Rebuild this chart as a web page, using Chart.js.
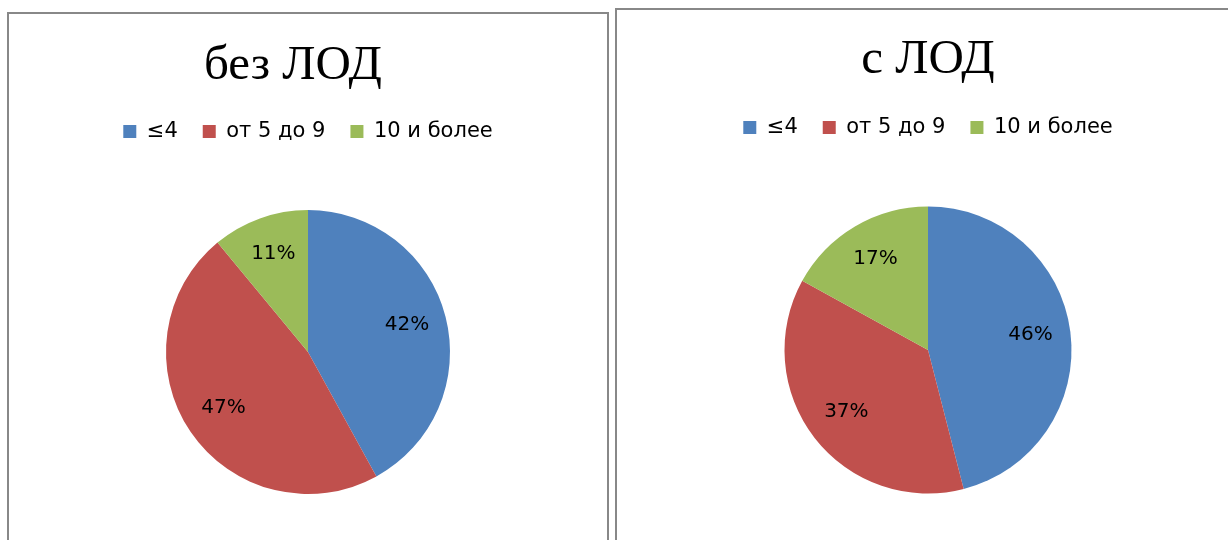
<!DOCTYPE html>
<html lang="ru">
<head>
<meta charset="utf-8">
<title>Распределение: без ЛОД и с ЛОД</title>
<script src="https://cdn.jsdelivr.net/npm/chart.js@4.4.1/dist/chart.umd.min.js"></script>
<style>
  html, body { margin: 0; padding: 0; width: 1228px; height: 540px; overflow: hidden; background: #fff; }
  .panel { position: absolute; border: 2px solid #888; background: #fff; overflow: hidden; }
  #panelLeft  { left: 7px;   top: 12px; width: 598px; height: 600px; }
  #panelRight { left: 615px; top: 8px;  width: 622px; height: 600px; }
  .panel canvas { position: absolute; left: 0; top: 0; }
  .ttl { position: absolute; width: 300px; text-align: center; font-family: "Liberation Serif", "Times New Roman", serif;
         font-size: 49px; line-height: 49px; color: #000; white-space: nowrap; }
</style>
</head>
<body>
<div class="panel" id="panelLeft"><canvas id="pieLeft" width="598" height="600"></canvas></div>
<div class="panel" id="panelRight"><canvas id="pieRight" width="622" height="600"></canvas></div>
<div class="ttl" id="titleLeft"  style="left:143px; top:38px;"></div>
<div class="ttl" id="titleRight" style="left:778px; top:32px;"></div>
<script>
// Groups and their shares, %
const categories = ['≤4', 'от 5 до 9', '10 и более'];
const valuesWithout = [42, 47, 11];
const valuesWith = [46, 37, 17];
const titles = ['без ЛОД', 'с ЛОД'];
const sliceColors = ['#4F81BD', '#C0504D', '#9BBB59'];

document.getElementById('titleLeft').textContent = titles[0];
document.getElementById('titleRight').textContent = titles[1];

// Percent labels placed inside each slice
const sliceLabels = {
  id: 'sliceLabels',
  afterDatasetsDraw(chart) {
    const ctx = chart.ctx;
    const meta = chart.getDatasetMeta(0);
    const data = chart.data.datasets[0].data;
    ctx.save();
    ctx.font = '20px "DejaVu Sans", sans-serif';
    ctx.fillStyle = '#000';
    ctx.textAlign = 'center';
    ctx.textBaseline = 'middle';
    meta.data.forEach((arc, i) => {
      const p = arc.getProps(['x', 'y', 'startAngle', 'endAngle', 'outerRadius'], true);
      const mid = (p.startAngle + p.endAngle) / 2;
      const d = p.outerRadius * 0.72;
      ctx.fillText(data[i] + '%', p.x + Math.cos(mid) * d, p.y + Math.sin(mid) * d - 2);
    });
    ctx.restore();
  }
};

function makePie(canvasId, values, radius, padTop, padBottom) {
  return new Chart(document.getElementById(canvasId), {
    type: 'pie',
    data: {
      labels: categories,
      datasets: [{
        data: values,
        backgroundColor: sliceColors,
        borderWidth: 0,
        radius: radius
      }]
    },
    options: {
      responsive: false,
      animation: false,
      devicePixelRatio: 1,
      layout: { padding: { top: padTop, bottom: padBottom, left: 0, right: 0 } },
      plugins: {
        tooltip: { enabled: false },
        title: { display: false },
        legend: {
          display: true,
          position: 'top',
          labels: {
            boxWidth: 13,
            boxHeight: 13,
            padding: 25,
            color: '#000',
            font: { family: '"DejaVu Sans", sans-serif', size: 21 }
          }
        }
      }
    },
    plugins: [sliceLabels]
  });
}

makePie('pieLeft', valuesWithout, 142, 82, 62);
makePie('pieRight', valuesWith, 143.5, 82, 58);
</script>
</body>
</html>
